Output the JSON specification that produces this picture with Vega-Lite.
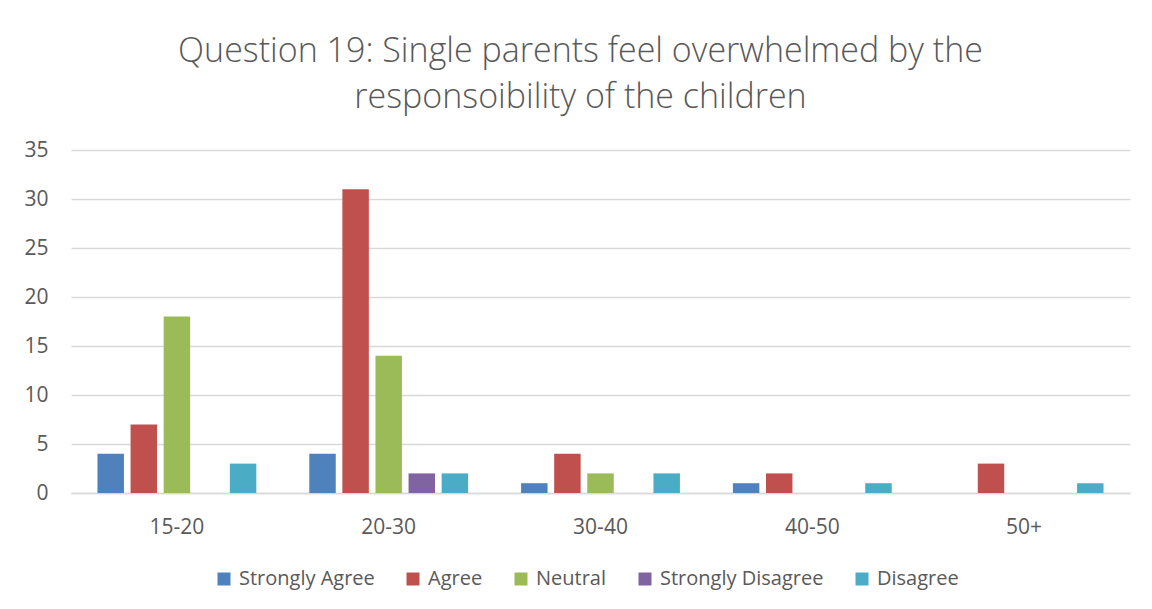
{
  "$schema": "https://vega.github.io/schema/vega-lite/v6.json",
  "autosize": {"type": "none"},
  "width": 1059,
  "height": 343,
  "padding": {"left": 71, "top": 150, "right": 22, "bottom": 116},
  "background": "white",
  "title": {
    "text": ["Question 19: Single parents feel overwhelmed by the", "responsoibility of the children"],
    "font": "Open Sans",
    "fontWeight": 300,
    "fontSize": 34,
    "color": "#595959",
    "lineHeight": 46,
    "anchor": "middle",
    "frame": "group",
    "dx": -20,
    "offset": 24
  },
  "data": {
    "values": [
      {"age": "15-20", "response": "Strongly Agree", "count": 4},
      {"age": "15-20", "response": "Agree", "count": 7},
      {"age": "15-20", "response": "Neutral", "count": 18},
      {"age": "15-20", "response": "Strongly Disagree", "count": 0},
      {"age": "15-20", "response": "Disagree", "count": 3},
      {"age": "20-30", "response": "Strongly Agree", "count": 4},
      {"age": "20-30", "response": "Agree", "count": 31},
      {"age": "20-30", "response": "Neutral", "count": 14},
      {"age": "20-30", "response": "Strongly Disagree", "count": 2},
      {"age": "20-30", "response": "Disagree", "count": 2},
      {"age": "30-40", "response": "Strongly Agree", "count": 1},
      {"age": "30-40", "response": "Agree", "count": 4},
      {"age": "30-40", "response": "Neutral", "count": 2},
      {"age": "30-40", "response": "Strongly Disagree", "count": 0},
      {"age": "30-40", "response": "Disagree", "count": 2},
      {"age": "40-50", "response": "Strongly Agree", "count": 1},
      {"age": "40-50", "response": "Agree", "count": 2},
      {"age": "40-50", "response": "Neutral", "count": 0},
      {"age": "40-50", "response": "Strongly Disagree", "count": 0},
      {"age": "40-50", "response": "Disagree", "count": 1},
      {"age": "50+", "response": "Strongly Agree", "count": 0},
      {"age": "50+", "response": "Agree", "count": 3},
      {"age": "50+", "response": "Neutral", "count": 0},
      {"age": "50+", "response": "Strongly Disagree", "count": 0},
      {"age": "50+", "response": "Disagree", "count": 1}
    ]
  },
  "mark": {"type": "bar"},
  "encoding": {
    "x": {
      "field": "age",
      "type": "nominal",
      "sort": ["15-20", "20-30", "30-40", "40-50", "50+"],
      "scale": {"paddingInner": 0.25, "paddingOuter": 0.125},
      "axis": {
        "title": null,
        "labelAngle": 0,
        "ticks": false,
        "domainColor": "#d9d9d9",
        "domainWidth": 1.5,
        "labelFont": "Open Sans",
        "labelFontSize": 21,
        "labelColor": "#595959",
        "labelPadding": 23
      }
    },
    "xOffset": {
      "field": "response",
      "type": "nominal",
      "sort": ["Strongly Agree", "Agree", "Neutral", "Strongly Disagree", "Disagree"],
      "scale": {"paddingInner": 0.2, "paddingOuter": 0}
    },
    "y": {
      "field": "count",
      "type": "quantitative",
      "scale": {"domain": [0, 35]},
      "axis": {
        "title": null,
        "values": [0, 5, 10, 15, 20, 25, 30, 35],
        "ticks": false,
        "domain": false,
        "gridColor": "#d9d9d9",
        "gridWidth": 1.5,
        "labelFont": "Open Sans",
        "labelFontSize": 21,
        "labelColor": "#595959",
        "labelPadding": 23
      }
    },
    "color": {
      "field": "response",
      "type": "nominal",
      "sort": ["Strongly Agree", "Agree", "Neutral", "Strongly Disagree", "Disagree"],
      "scale": {
        "domain": ["Strongly Agree", "Agree", "Neutral", "Strongly Disagree", "Disagree"],
        "range": ["#4f81bd", "#c0504d", "#9bbb59", "#8064a2", "#4bacc6"]
      },
      "legend": {
        "title": null,
        "orient": "none",
        "direction": "horizontal",
        "legendX": 143,
        "legendY": 419,
        "symbolType": "square",
        "symbolSize": 169,
        "symbolStrokeWidth": 0,
        "labelFont": "Open Sans",
        "labelFontSize": 20,
        "labelColor": "#595959",
        "labelOffset": 5,
        "labelLimit": 400,
        "columnPadding": 28
      }
    }
  },
  "config": {
    "view": {"stroke": null}
  }
}
